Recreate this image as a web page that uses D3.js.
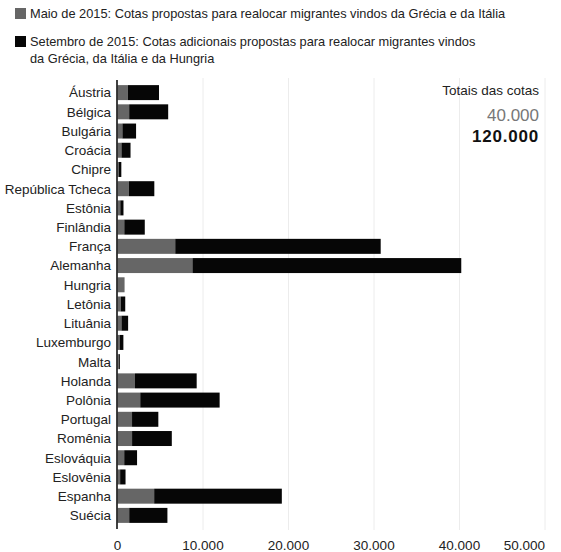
<!DOCTYPE html>
<html>
<head>
<meta charset="utf-8">
<script src="https://cdn.jsdelivr.net/npm/d3@7"></script>
<style>
  body { margin: 0; background: #fff; }
  svg { font-family: "Liberation Sans", Arial, sans-serif; }
</style>
</head>
<body>
<div id="chart"></div>
<script>
var paises = ["Áustria","Bélgica","Bulgária","Croácia","Chipre","República Tcheca","Estônia","Finlândia","França","Alemanha","Hungria","Letônia","Lituânia","Luxemburgo","Malta","Holanda","Polônia","Portugal","Romênia","Eslováquia","Eslovênia","Espanha","Suécia"];
var maio = [1213,1364,572,459,173,1328,326,792,6752,8763,827,379,462,247,143,2047,2659,1701,1705,785,309,4288,1369];
var setembro = [3640,4564,1600,1064,274,2978,373,2398,24031,31443,0,526,780,440,133,7214,9287,3074,4646,1502,631,14931,4469];
var ticks = [0,10000,20000,30000,40000,50000];
var totais = ["40.000","120.000"];
var legendas = [
  ["Maio de 2015: Cotas propostas para realocar migrantes vindos da Grécia e da Itália"],
  ["Setembro de 2015: Cotas adicionais propostas para realocar migrantes vindos", "da Grécia, da Itália e da Hungria"]
];

var width = 561, height = 552;
var cinza = "#666666", preto = "#060606";

var svg = d3.select("#chart").append("svg")
  .attr("width", width)
  .attr("height", height);

// legenda
var leg = svg.append("g");
[8, 36].forEach(function(y, i){
  leg.append("rect").attr("x", 15).attr("y", y).attr("width", 11).attr("height", 11)
    .attr("fill", i == 0 ? cinza : preto);
  var t = leg.append("text").attr("x", 30).attr("y", y + 10)
    .style("font-size", "12.8px").style("fill", "#222");
  legendas[i].forEach(function(l, j){
    t.append("tspan").attr("x", 30).attr("dy", j == 0 ? 0 : 16.5).text(l);
  });
});

var x = d3.scaleLinear().domain([0, 50000]).range([117.5, 545]);
var y = d3.scaleBand().domain(paises).range([83, 525]).paddingInner(0.22).paddingOuter(0.11);

// grade
svg.append("g").selectAll("line")
  .data(ticks.slice(1))
  .enter().append("line")
  .attr("x1", d => x(d)).attr("x2", d => x(d))
  .attr("y1", 78).attr("y2", 530)
  .attr("stroke", "#ececec").attr("stroke-width", 1);

var dados = paises.map(function(p, i){ return {pais: p, maio: maio[i], setembro: setembro[i]}; });
var stack = d3.stack().keys(["maio","setembro"])(dados);

svg.append("g").selectAll("g")
  .data(stack)
  .enter().append("g")
  .attr("fill", (d, i) => i == 0 ? cinza : preto)
  .selectAll("rect")
  .data(d => d)
  .enter().append("rect")
  .attr("x", d => x(d[0]))
  .attr("width", d => x(d[1]) - x(d[0]))
  .attr("y", d => y(d.data.pais))
  .attr("height", y.bandwidth());

// eixo y
svg.append("line")
  .attr("x1", 117).attr("x2", 117).attr("y1", 80).attr("y2", 529)
  .attr("stroke", "#111").attr("stroke-width", 1.6);

svg.append("g").selectAll("text")
  .data(paises)
  .enter().append("text")
  .attr("x", 111)
  .attr("y", d => y(d) + y.bandwidth() / 2)
  .attr("dy", "0.36em")
  .attr("text-anchor", "end")
  .style("font-size", "13.5px")
  .style("fill", "#222")
  .text(d => d);

// eixo x
var fmt = d3.formatLocale({decimal: ",", thousands: ".", grouping: [3], currency: ["R$", ""]}).format(",d");
svg.append("g").selectAll("text")
  .data(ticks)
  .enter().append("text")
  .attr("x", d => x(d))
  .attr("y", 550)
  .attr("text-anchor", (d, i) => i == ticks.length - 1 ? "end" : "middle")
  .style("font-size", "13.5px")
  .style("fill", "#222")
  .text(d => fmt(d));

// totais
svg.append("text").attr("x", 539).attr("y", 95).attr("text-anchor", "end")
  .style("font-size", "13.5px").style("fill", "#222").text("Totais das cotas");
svg.append("text").attr("x", 539).attr("y", 120.5).attr("text-anchor", "end")
  .style("font-size", "17px").style("fill", "#777").text(totais[0]);
svg.append("text").attr("x", 539).attr("y", 142).attr("text-anchor", "end")
  .style("font-size", "17px").style("font-weight", "bold").style("letter-spacing", "0.8px")
  .style("fill", "#111").text(totais[1]);
</script>
</body>
</html>
